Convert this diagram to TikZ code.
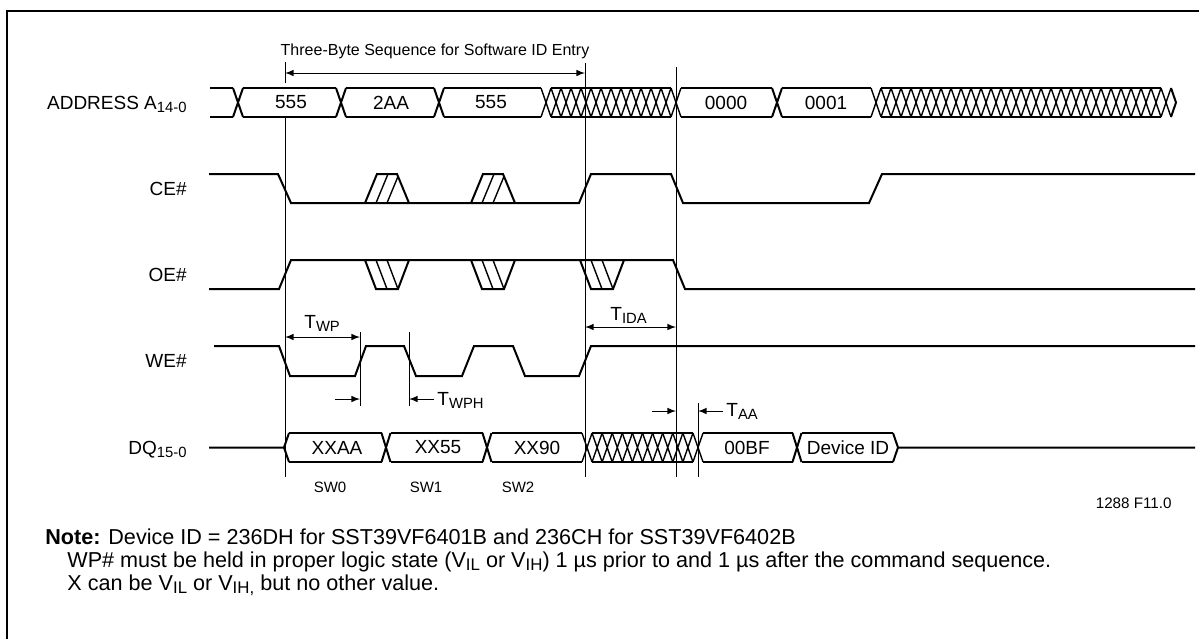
\documentclass[tikz,border=0pt]{standalone}
\usepackage{fontspec}
\setmainfont{Liberation Sans}
\usetikzlibrary{positioning, calc, arrows}
\tikzset{sig/.style={line width=1pt, line join=miter}}
\tikzset{hatch/.style={line width=0.7pt}}
\tikzset{guide/.style={line width=0.5pt}}
\tikzset{dim/.style={line width=0.5pt, >=latex}}
\tikzset{lbl/.style={anchor=base east, inner sep=0pt, font=\fontsize{9.5}{11}\selectfont}}
\tikzset{bustxt/.style={inner sep=0pt, font=\fontsize{9.5}{11}\selectfont}}
\tikzset{cyc/.style={inner sep=0pt, font=\fontsize{7.5}{9}\selectfont}}
\tikzset{tim/.style={anchor=base west, inner sep=0pt, font=\fontsize{9.5}{11}\selectfont}}
\tikzset{note/.style={anchor=base west, inner sep=0pt, font=\fontsize{10.8}{13}\selectfont}}

\newcommand{\subtxt}[1]{\raisebox{-0.3ex}{\scalebox{0.78}{#1}}}
% crosshatched bus from #1 to #2 in #3 steps, top #4, bottom #5
\newcommand{\hatchbus}[5]{%
  \pgfmathsetmacro{\hstep}{(#2-#1)/#3}%
  \draw[sig] ({#1+\hstep/2},#4) -- ({#2-\hstep/2},#4) ({#1+\hstep/2},#5) -- ({#2-\hstep/2},#5);%
  \foreach \k in {0,...,#3}{%
    \draw[hatch] ({#1+(\k-0.5)*\hstep},#4) -- ({#1+(\k+0.5)*\hstep},#5)
                 ({#1+(\k-0.5)*\hstep},#5) -- ({#1+(\k+0.5)*\hstep},#4);%
  }}
% CE# pulse, hatched rising edge
\newcommand{\cepulse}[1]{%
  \draw[sig] (#1,203) -- (#1+12,174) -- (#1+32,174) -- (#1+44,203);%
  \begin{scope}
    \clip (#1,203) -- (#1+12,174) -- (#1+32,174) -- (#1+44,203) -- cycle;
    \foreach \k in {11,22} \draw[hatch] (#1+\k,203) -- (#1+\k+12,174);
  \end{scope}}
% OE# dip, hatched falling edge
\newcommand{\oedip}[1]{%
  \draw[sig] (#1,260) -- (#1+11,289) -- (#1+33,289) -- (#1+44,260);%
  \begin{scope}
    \clip (#1,260) -- (#1+11,289) -- (#1+33,289) -- (#1+44,260) -- cycle;
    \foreach \k in {11,22} \draw[hatch] (#1+\k,260) -- (#1+\k+11,289);
  \end{scope}}

\begin{document}
\begin{tikzpicture}[x=0.5pt,y=-0.5pt]
  \useasboundingbox (0,0) rectangle (1199,639);
  \draw[line width=1pt] (7,639) -- (7,11) -- (1199,11);

  % sequence span
  \node[inner sep=0pt, font=\fontsize{8}{10}\selectfont] (seq) at (435,51) {Three-Byte Sequence for Software ID Entry};
  \coordinate (seqL) at (285,73);
  \coordinate (seqR) at (585,73);
  \draw[dim,<->] (seqL) -- (seqR);

  % guide lines
  \draw[guide] (285,62) -- (285,83) (285,118) -- (285,477);
  \draw[guide] (585,63) -- (585,477);
  \draw[guide] (676,67) -- (676,477);
  \draw[guide] (360,332) -- (360,406);
  \draw[guide] (409,332) -- (409,406);
  \draw[guide] (698,403) -- (698,477);

  % signal names
  \node[lbl] (adr) at (187,109.3) {ADDRESS A\subtxt{14-0}};
  \node[lbl] (ce) at (187,195.3) {CE\#};
  \node[lbl] (oe) at (187,281.3) {OE\#};
  \node[lbl] (we) at (187,367.8) {WE\#};
  \node[lbl] (dq) at (187,454.3) {DQ\subtxt{15-0}};

  % address bus
  \draw[sig] (210,88) -- (233,88) (210,117) -- (233,117);
  \foreach \a/\b in {238/341,341/439,439/546,676/777,777/876}
    \draw[sig] (\a+5,88) -- (\b-5,88) (\a+5,117) -- (\b-5,117);
  \foreach \x in {238,341,439,777}
    \draw[sig] (\x-5,88) -- (\x+5,117) (\x-5,117) -- (\x+5,88);
  \hatchbus{546}{676}{13}{88}{117}
  \hatchbus{876}{1166}{29}{88}{117}
  \draw[sig] (1171,88) -- (1176,102.5) -- (1171,117);
  \node[bustxt] (a1) at (291,102.5) {555};
  \node[bustxt] (a2) at (391,102.5) {2AA};
  \node[bustxt] (a3) at (491,102.5) {555};
  \node[bustxt] (a4) at (726,102.5) {0000};
  \node[bustxt] (a5) at (826,102.5) {0001};

  % CE#
  \draw[sig] (209,174) -- (278,174) -- (291,203) -- (579,203) -- (591,174) -- (671,174)
    -- (683,203) -- (869,203) -- (882,174) -- (1195,174);
  \cepulse{365}
  \cepulse{471}

  % OE#
  \draw[sig] (209,289) -- (279,289) -- (291,260) -- (673,260) -- (685,289) -- (1195,289);
  \oedip{365}
  \oedip{471}
  \oedip{580}

  % WE#
  \draw[sig] (214,346) -- (279,346) -- (290,376) -- (355,376) -- (366,346) -- (404,346)
    -- (416,376) -- (462,376) -- (474,346) -- (513,346) -- (525,376) -- (579,376)
    -- (591,346) -- (1195,346);

  % DQ bus
  \draw[sig] (209,447.5) -- (284,447.5) -- (289,433) (284,447.5) -- (289,462);
  \foreach \a/\b in {289/381.5,390.5/482.5,491.5/582,703/792.5,801.5/893}
    \draw[sig] (\a,433) -- (\b,433) (\a,462) -- (\b,462);
  \foreach \x in {386,487,797}
    \draw[sig] (\x-4.5,433) -- (\x+4.5,462) (\x-4.5,462) -- (\x+4.5,433);
  \hatchbus{587}{698}{11}{433}{462}
  \draw[sig] (893,433) -- (898,447.5) -- (893,462) (898,447.5) -- (1195,447.5);
  \node[bustxt] (d1) at (337,447.5) {XXAA};
  \node[bustxt] (d2) at (438,447.5) {XX55};
  \node[bustxt] (d3) at (537,447.5) {XX90};
  \node[bustxt] (d4) at (747,447.5) {00BF};
  \node[bustxt] (d5) at (848,447.5) {Device ID};

  % timing parameters
  \coordinate (twpL) at (285,337);
  \coordinate (twpR) at (360,337);
  \draw[dim,<->] (twpL) -- (twpR);
  \node[tim] (twp) at (304,328) {T\subtxt{WP}};

  \coordinate (wphA) at (335,399);
  \coordinate (wphB) at (360,399);
  \coordinate (wphC) at (434,399);
  \coordinate (wphD) at (409,399);
  \draw[dim,->] (wphA) -- (wphB);
  \draw[dim,->] (wphC) -- (wphD);
  \node[tim] (twph) at (437,405) {T\subtxt{WPH}};

  \coordinate (tidaL) at (585,327);
  \coordinate (tidaR) at (676,327);
  \draw[dim,<->] (tidaL) -- (tidaR);
  \node[tim] (tida) at (610,320) {T\subtxt{IDA}};

  \coordinate (taaA) at (652,411);
  \coordinate (taaB) at (676,411);
  \coordinate (taaC) at (723,411);
  \coordinate (taaD) at (698,411);
  \draw[dim,->] (taaA) -- (taaB);
  \draw[dim,->] (taaC) -- (taaD);
  \node[tim] (taa) at (726,416) {T\subtxt{AA}};

  % write cycles
  \node[cyc] (sw0) at (330,487) {SW0};
  \node[cyc] (sw1) at (426,487) {SW1};
  \node[cyc] (sw2) at (518,487) {SW2};

  \node[anchor=base east, inner sep=0pt, font=\fontsize{7.6}{9}\selectfont] (fig) at (1172,508) {1288 F11.0};

  % notes
  \node[note] (nt) at (45,544) {\textbf{Note:}};
  \node[note] (n1) at (108,544) {Device ID = 236DH for SST39VF6401B and 236CH for SST39VF6402B};
  \node[note] (n2) at (67,567) {WP\# must be held in proper logic state (V\subtxt{IL} or V\subtxt{IH}) 1 µs prior to and 1 µs after the command sequence.};
  \node[note] (n3) at (67,590) {X can be V\subtxt{IL} or V\subtxt{IH,} but no other value.};
\end{tikzpicture}
\end{document}
